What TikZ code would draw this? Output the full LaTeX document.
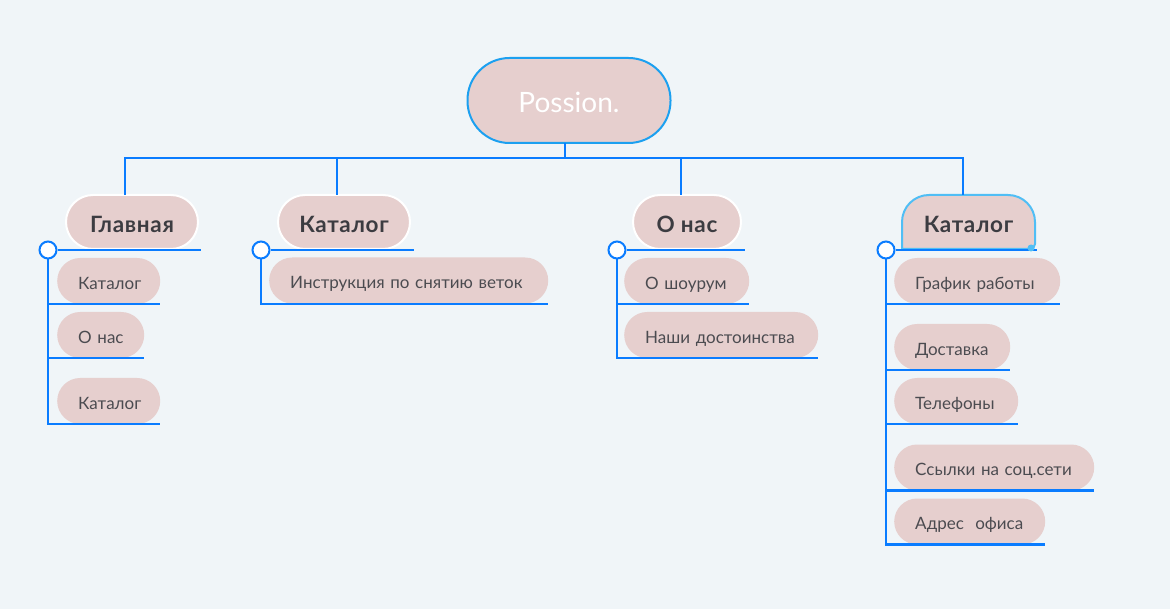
\documentclass[tikz,border=0pt]{standalone}
\usepackage{fontspec}
\setmainfont{Lato}
\usetikzlibrary{calc}
\definecolor{bg}{RGB}{240,245,248}
\definecolor{nodefill}{RGB}{230,207,206}
\definecolor{ln}{RGB}{10,124,255}
\definecolor{rootb}{RGB}{28,160,240}
\definecolor{selb}{RGB}{80,190,245}
\definecolor{txt}{RGB}{75,75,80}
\definecolor{mtxt}{RGB}{60,60,65}
\tikzset{
  conn/.style={draw=ln, line width=2.5pt},
  kid/.style={fill=nodefill, rounded corners=23pt, minimum height=46pt, inner xsep=21pt, inner ysep=0pt, anchor=west, align=left, text width=#1, text height=16.5pt, text depth=0pt, font=\fontsize{17}{19}\selectfont, text=txt},
  mainfont/.style={font=\bfseries\fontsize{22.5}{24}\selectfont\addfontfeatures{LetterSpace=3}, text=mtxt, text height=22pt, text depth=0pt},
  mainbox/.style={mainfont, fill=nodefill, draw=white, line width=2pt, rounded corners=27pt, minimum height=54pt, minimum width=#1, inner sep=0pt, outer sep=0pt},
  knob/.style={circle, draw=ln, fill=white, line width=2pt, minimum size=17pt, inner sep=0pt},
}
\begin{document}
\begin{tikzpicture}[x=1pt,y=-1pt]
\useasboundingbox (0,0) rectangle (1170,609);
\fill[bg] (0,0) rectangle (1170,609);

% root
\node[fill=nodefill, draw=rootb, line width=2pt, rounded corners=42pt, minimum width=203pt, minimum height=85pt, inner sep=0pt, outer sep=0pt, text=white, text height=24pt, text depth=0pt, font=\fontsize{28}{30}\selectfont] (root) at (569,100.5) {Possion.};

% main nodes
\node[mainbox=132pt] (m1) at (132,222) {Главная};
\node[mainbox=132pt] (m2) at (344,222) {Каталог};
\node[mainbox=108pt] (m3) at (687,222) {О нас};
\fill[nodefill] (902,249) -- (902,222) arc[start angle=180,end angle=270,radius=27] -- (1008,195) arc[start angle=270,end angle=360,radius=27] -- (1035,244) arc[start angle=0,end angle=90,radius=5] -- cycle;
\draw[selb, line width=2pt] (902,249) -- (902,222) arc[start angle=180,end angle=270,radius=27] -- (1008,195) arc[start angle=270,end angle=360,radius=27] -- (1035,244) arc[start angle=0,end angle=90,radius=5] -- cycle;
\node[mainfont, inner sep=0pt, outer sep=0pt, minimum width=133pt, minimum height=54pt] (m4) at (968.5,222) {Каталог};

% bus
\coordinate (bus) at (565,158);
\coordinate (x1) at (125,0);
\coordinate (x2) at (337,0);
\coordinate (x3) at (681,0);
\coordinate (x4) at (963,0);
\draw[conn] (bus -| root.south) ++(-4,0) coordinate (rb) -- (rb |- root.south);
\draw[conn] (x1 |- m1.north) -- (x1 |- bus) -- (x4 |- bus) -- (x4 |- m4.north);
\draw[conn] (x2 |- bus) -- (x2 |- m2.north);
\draw[conn] (x3 |- bus) -- (x3 |- m3.north);

% knobs
\node[knob] (k1) at (48,250) {};
\node[knob] (k2) at (261,250) {};
\node[knob] (k3) at (617,250) {};
\node[knob] (k4) at (886,250) {};

% children
\node[kid=61pt] (a1) at (57,281) {\mbox{Каталог}};
\node[kid=45pt] (a2) at (57,335) {\mbox{О нас}};
\node[kid=61pt] (a3) at (57,401) {\mbox{Каталог}};

\node[kid=237pt] (b1) at (269,280.5) {\mbox{Инструкция по снятию веток}};

\node[kid=83pt] (c1) at (624,281) {\mbox{О шоурум}};
\node[kid=152pt] (c2) at (624,335) {\mbox{Наши достоинства}};

\node[kid=124pt] (d1) at (894,281) {\mbox{График работы}};
\node[kid=74pt] (d2) at (894,347) {\mbox{Доставка}};
\node[kid=82pt] (d3) at (894,401) {\mbox{Телефоны}};
\node[kid=158pt] (d4) at (894,467.5) {\mbox{Ссылки на соц.сети}};
\node[kid=109pt] (d5) at (894,521.5) {\mbox{Адрес\ \ офиса}};

% main underlines
\draw[conn] (k1.east) -- ($(k1 -| m1.east)+(3,0)$);
\draw[conn] (k2.east) -- ($(k2 -| m2.east)+(4,0)$);
\draw[conn] (k3.east) -- ($(k3 -| m3.east)+(4,0)$);
\draw[conn] (k4.east) -- ($(k4 -| m4.east)+(2,0)$);
\fill[selb] (1031,248) circle (3.5pt);

% spines and underlines
\draw[conn] (k1.south) |- (a3.south east);
\draw[conn] (k1 |- a1.south) -- (a1.south east);
\draw[conn] (k1 |- a2.south) -- (a2.south east);

\draw[conn] (k2.south) |- ($(b1.south east)+(0,0.5)$);

\draw[conn] (k3.south) |- (c2.south east);
\draw[conn] (k3 |- c1.south) -- (c1.south east);

\draw[conn] (k4.south) |- (d5.south east);
\draw[conn] (k4 |- d1.south) -- (d1.south east);
\draw[conn] (k4 |- d2.south) -- (d2.south east);
\draw[conn] (k4 |- d3.south) -- (d3.south east);
\draw[conn] (k4 |- d4.south) -- (d4.south east);
\end{tikzpicture}
\end{document}
